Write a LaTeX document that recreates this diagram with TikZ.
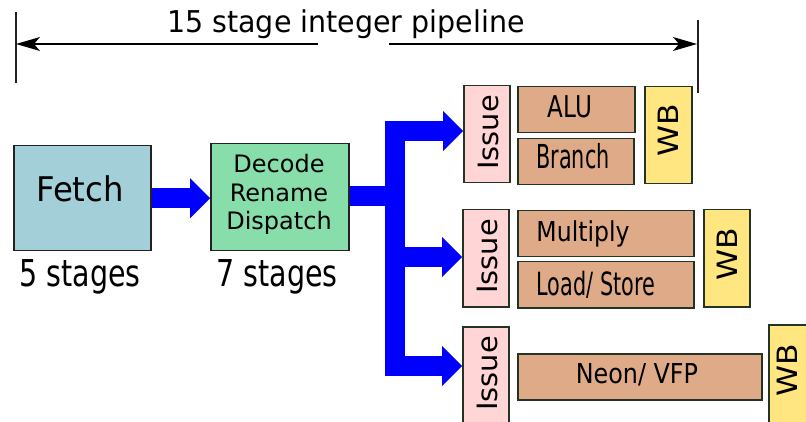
\documentclass[tikz,border=0pt]{standalone}
\usepackage{fontspec}
\setmainfont{DejaVu Sans}
\usepackage{graphicx}
\usetikzlibrary{arrows.meta}
\newcommand{\tx}[3]{\fontsize{#1}{#1}\selectfont\scalebox{#2}[1]{#3}}
\definecolor{fetchc}{RGB}{163,207,216}
\definecolor{decc}{RGB}{135,222,170}
\definecolor{issc}{RGB}{255,213,213}
\definecolor{exc}{RGB}{222,170,135}
\definecolor{wbc}{RGB}{255,230,128}
\definecolor{dk}{RGB}{34,34,34}
\definecolor{dg}{RGB}{36,52,36}
\tikzset{
  blk/.style={rectangle, inner sep=0pt, line width=1.5pt, anchor=north west},
  frontblk/.style={blk, draw=dk},
  unit/.style={blk, draw=dg},
  lbl/.style={inner sep=0pt, anchor=base},
  vlbl/.style={inner sep=0pt, anchor=base, rotate=90},
  bus/.style={draw=blue, line width=20pt, line join=miter, line cap=butt},
  bigtip/.style={-{Triangle[length=20pt,width=40pt,line width=0pt]}},
  dimline/.style={draw=black, line width=1.3pt, line cap=butt},
  tick/.style={draw=dk, line width=1.3pt},
  dimtip/.tip={Stealth[length=24pt,width=14pt,inset=6pt,line width=0pt]}
}
\begin{document}
\begin{tikzpicture}[x=1pt,y=-1pt]
\useasboundingbox (0,0) rectangle (806,422);
\fill[white] (0,0) rectangle (806,422);

% dimension line
\coordinate (tl1) at (16,12);
\coordinate (tl2) at (16,83);
\coordinate (tr1) at (698,20);
\coordinate (tr2) at (698,93);
\coordinate (al) at (16,44);
\coordinate (ale) at (318,44);
\coordinate (ars) at (389,44);
\coordinate (ar) at (697,44);
\draw[tick] (tl1) -- (tl2);
\draw[tick] (tr1) -- (tr2);
\draw[dimline, {dimtip}-] (al) -- (ale);
\draw[dimline, -{dimtip}] (ars) -- (ar);
\node[lbl] (title) at (346,33) {\tx{30}{0.95}{15 stage integer pipeline}};

% front end
\node[frontblk, fill=fetchc, minimum width=137pt, minimum height=105pt] (fetch) at (13,145) {};
\node[frontblk, fill=decc, minimum width=138pt, minimum height=107pt] (decode) at (210,143) {};
\node[lbl] (fetcht) at (80,202) {\tx{34}{0.95}{Fetch}};
\node[lbl] (dec1) at (279,173) {\tx{24}{1}{Decode}};
\node[lbl] (dec2) at (279,201.5) {\tx{24}{1}{Rename}};
\node[lbl] (dec3) at (279,230) {\tx{24}{1}{Dispatch}};
\node[lbl] (st5) at (80,286) {\tx{37}{0.77}{5 stages}};
\node[lbl] (st7) at (277,286) {\tx{37}{0.77}{7 stages}};

% issue boxes
\node[unit, fill=issc, minimum width=46pt, minimum height=97pt] (is1) at (463,85) {};
\node[unit, fill=issc, minimum width=46pt, minimum height=97pt] (is2) at (462,209) {};
\node[unit, fill=issc, minimum width=46pt, minimum height=110pt] (is3) at (462,326) {};

% execution units
\node[unit, fill=exc, minimum width=117pt, minimum height=46pt] (alu) at (517,86) {};
\node[unit, fill=exc, minimum width=116pt, minimum height=46pt] (br) at (517,138) {};
\node[unit, fill=exc, minimum width=176pt, minimum height=46pt] (mul) at (517,210) {};
\node[unit, fill=exc, minimum width=176pt, minimum height=46pt] (ls) at (517,261) {};
\node[unit, fill=exc, minimum width=244pt, minimum height=46pt] (neon) at (517,353) {};

% write back
\node[unit, fill=wbc, minimum width=47pt, minimum height=97pt] (wb1) at (644,86) {};
\node[unit, fill=wbc, minimum width=46pt, minimum height=97pt] (wb2) at (703,209) {};
\node[unit, fill=wbc, minimum width=52pt, minimum height=110pt] (wb3) at (768,324) {};

% labels
\node[vlbl] (is1t) at (498,132.5) {\tx{28}{1.03}{Issue}};
\node[vlbl] (is2t) at (497,256.5) {\tx{28}{1.03}{Issue}};
\node[vlbl] (is3t) at (497,373.5) {\tx{28}{1.03}{Issue}};
\node[lbl] (alut) at (570,118) {\tx{30}{0.77}{ALU}};
\node[lbl] (brt) at (573,169) {\tx{33}{0.63}{Branch}};
\node[lbl] (mult) at (583,241) {\tx{27.4}{0.86}{Multiply}};
\node[lbl] (lst) at (596,295) {\tx{32}{0.65}{Load/ Store}};
\node[lbl] (neont) at (637,383) {\tx{27.4}{0.87}{Neon/ VFP}};
\node[vlbl] (wb1t) at (678,130) {\tx{28}{1.12}{WB}};
\node[vlbl] (wb2t) at (737,254) {\tx{28}{1.12}{WB}};
\node[vlbl] (wb3t) at (797,370) {\tx{28}{1.12}{WB}};

% blue flow arrows
\coordinate (c1) at (395,131);
\coordinate (c2) at (395,257);
\coordinate (c3) at (395,366);
\coordinate (j) at (405,196);
\draw[bus, bigtip] (fetch.east) -- (fetch.east -| decode.west);
\draw[bus] (decode.east |- j) -- (j);
\draw[bus, {Triangle[length=20pt,width=40pt,line width=0pt]}-{Triangle[length=20pt,width=40pt,line width=0pt]}]
  (is3.west |- c3) -- (c3) -- (c1) -- (is1.west |- c1);
\draw[bus, bigtip] (c2) -- (is2.west |- c2);
\end{tikzpicture}
\end{document}
